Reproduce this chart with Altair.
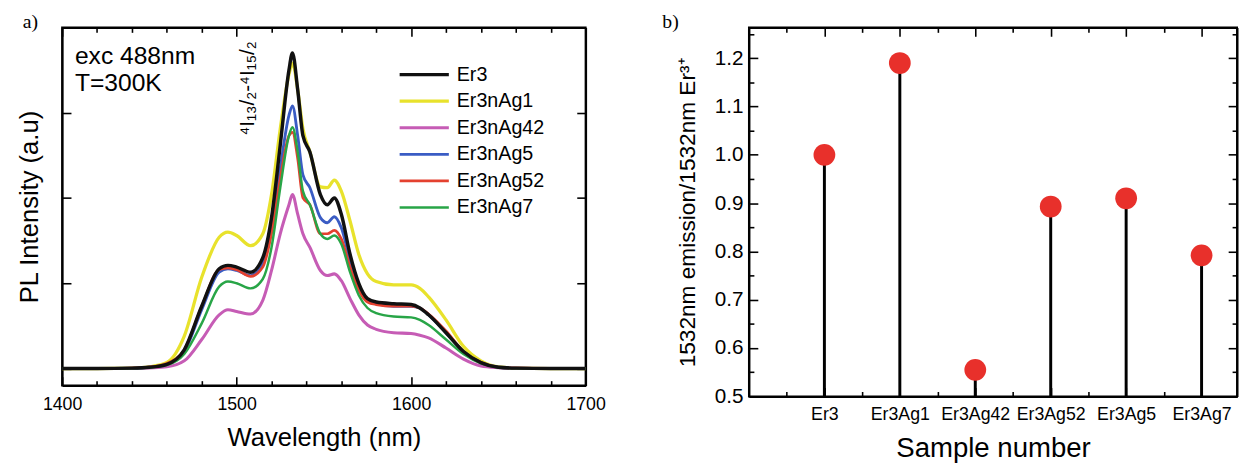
import json
import altair as alt
import pandas as pd

# ---------------- data: panel a) PL spectra ----------------
wavelength = [1400, 1420, 1440, 1450, 1460, 1470, 1480, 1490, 1495, 1500,
              1508, 1515, 1520, 1525, 1530, 1532, 1535, 1538, 1542, 1548,
              1552, 1556, 1560, 1565, 1570, 1575, 1580, 1590, 1600, 1605,
              1610, 1620, 1630, 1640, 1650, 1660, 1680, 1700]

er3 = [0, 0, 0.005, 0.015, 0.05, 0.22, 0.73, 1.17, 1.21, 1.19,
       1.13, 1.30, 1.77, 2.62, 3.50, 3.70, 3.27, 2.73, 2.54, 2.04,
       1.92, 2.00, 1.81, 1.34, 1.00, 0.82, 0.78, 0.76, 0.75, 0.71,
       0.63, 0.42, 0.20, 0.07, 0.015, 0.005, 0, 0]
er3nag1 = [0, 0, 0.005, 0.02, 0.07, 0.38, 1.07, 1.54, 1.60, 1.56,
           1.44, 1.58, 2.04, 2.81, 3.45, 3.58, 3.27, 2.81, 2.54, 2.13,
           2.12, 2.21, 2.08, 1.73, 1.34, 1.11, 1.02, 0.98, 0.98, 0.94,
           0.84, 0.57, 0.26, 0.09, 0.02, 0.005, 0, 0]
er3nag42 = [0, 0, 0, 0.008, 0.02, 0.09, 0.34, 0.63, 0.69, 0.67,
            0.64, 0.80, 1.15, 1.58, 1.92, 2.04, 1.81, 1.58, 1.42, 1.15,
            1.09, 1.11, 1.03, 0.82, 0.63, 0.51, 0.46, 0.42, 0.41, 0.39,
            0.36, 0.24, 0.11, 0.03, 0.01, 0.003, 0, 0]
er3nag5 = [0, 0, 0.005, 0.015, 0.05, 0.20, 0.69, 1.13, 1.17, 1.15,
           1.09, 1.23, 1.65, 2.35, 2.97, 3.08, 2.73, 2.27, 2.12, 1.77,
           1.71, 1.78, 1.65, 1.27, 0.96, 0.80, 0.76, 0.73, 0.73, 0.71,
           0.63, 0.42, 0.20, 0.07, 0.015, 0.005, 0, 0]
er3nag52 = [0, 0, 0.006, 0.018, 0.06, 0.22, 0.73, 1.16, 1.18, 1.16,
            1.08, 1.19, 1.58, 2.23, 2.73, 2.77, 2.46, 2.00, 1.92, 1.58,
            1.58, 1.62, 1.52, 1.19, 0.92, 0.78, 0.75, 0.73, 0.73, 0.71,
            0.64, 0.44, 0.20, 0.07, 0.015, 0.005, 0, 0]
er3nag7 = [0, 0, 0.004, 0.012, 0.04, 0.17, 0.53, 0.96, 1.02, 1.00,
           0.94, 1.05, 1.42, 2.12, 2.73, 2.83, 2.54, 2.08, 1.92, 1.58,
           1.52, 1.56, 1.46, 1.13, 0.86, 0.71, 0.65, 0.61, 0.60, 0.57,
           0.51, 0.34, 0.17, 0.06, 0.015, 0.004, 0, 0]

series_names = ["Er3", "Er3nAg1", "Er3nAg42", "Er3nAg5", "Er3nAg52", "Er3nAg7"]
series_colors = ["#111111", "#e8e22c", "#c65cb5", "#3a5cc4", "#e4412f", "#28a547"]
series_widths = [3.5, 2.5, 2.5, 2.5, 2.5, 2.5]
draw_order = ["Er3nAg1", "Er3nAg42", "Er3nAg5", "Er3nAg52", "Er3nAg7", "Er3"]

x_range_a = [1400, 1700]
y_range_a = [-0.2, 4.0]
x_major_a = [1400, 1500, 1600, 1700]
x_minor_a = [1420, 1440, 1460, 1480, 1520, 1540, 1560, 1580, 1620, 1640, 1660, 1680]
y_major_a = [0, 1, 2, 3]

# ---------------- data: panel b) ratio ----------------
samples = ["Er3", "Er3Ag1", "Er3Ag42", "Er3Ag52", "Er3Ag5", "Er3Ag7"]
sample_pos = [1, 2, 3, 4, 5, 6]
ratio = [1.0, 1.19, 0.555, 0.893, 0.91, 0.792]

x_range_b = [0, 6.47]
y_range_b = [0.5, 1.2637]
x_major_b = [1, 2, 3, 4, 5, 6]
x_minor_b = [0.5, 1.5, 2.5, 3.5, 4.5, 5.5]
y_major_b = [0.5, 0.6, 0.7, 0.8, 0.9, 1.0, 1.1, 1.2]
y_minor_b = [0.55, 0.65, 0.75, 0.85, 0.95, 1.05, 1.15, 1.25]

FONT = "Liberation Sans"
SERIF = "Liberation Serif"
one = pd.DataFrame({"k": [0]})


def frame_axis(orient):
    return alt.Axis(orient=orient, domain=True, domainColor="black", domainWidth=2,
                    ticks=False, labels=False, grid=False, title=None)


def tick_axis(orient, vals, size):
    # inward ticks: pull the axis line inside by the tick length
    return alt.Axis(orient=orient, values=vals, domain=False, ticks=True, tickSize=size,
                    tickWidth=1.6, tickColor="black", labels=False, grid=False,
                    title=None, offset=-size)


def guide_layers(xr, yr, xscale, yscale, xmaj, xmin, ymaj, ymin):
    """Invisible anchor marks that only carry the frame and the inward tick axes."""
    g = pd.DataFrame({"gx": [xr[0]], "gy": [yr[0]]})
    specs = [
        (frame_axis("top"), frame_axis("right")),
        (tick_axis("bottom", xmaj, 9), tick_axis("left", ymaj, 9)),
        (tick_axis("top", xmaj, 9), tick_axis("right", ymaj, 9)),
    ]
    if xmin or ymin:
        specs.append((tick_axis("bottom", xmin or [], 5), tick_axis("left", ymin or [], 5)))
        specs.append((tick_axis("top", xmin or [], 5), tick_axis("right", ymin or [], 5)))
    layers = []
    for ax_x, ax_y in specs:
        layers.append(alt.Chart(g).mark_point(opacity=0, size=1).encode(
            x=alt.X("gx:Q", scale=xscale, axis=ax_x),
            y=alt.Y("gy:Q", scale=yscale, axis=ax_y)))
    return layers


# ---------------- panel a ----------------
W1, H1 = 532, 364
values_by_name = {"Er3": er3, "Er3nAg1": er3nag1, "Er3nAg42": er3nag42,
                  "Er3nAg5": er3nag5, "Er3nAg52": er3nag52, "Er3nAg7": er3nag7}
rows = []
for name in draw_order:
    for w, v in zip(wavelength, values_by_name[name]):
        rows.append({"wl": w, "I": v, "s": name})
spec_df = pd.DataFrame(rows)

xs_a = alt.Scale(domain=x_range_a, nice=False)
ys_a = alt.Scale(domain=y_range_a, nice=False, zero=False)
ax_xa = alt.Axis(orient="bottom", values=x_major_a, format="d", ticks=False,
                 domain=True, domainColor="black", domainWidth=2, grid=False,
                 labelFlush=False, labelFont=FONT, labelFontSize=18, labelPadding=10,
                 labelColor="black", title="Wavelength (nm)", titleFont=FONT, titleFontSize=26,
                 titleFontWeight="normal", titlePadding=12, titleColor="black")
ax_ya = alt.Axis(orient="left", labels=False, ticks=False,
                 domain=True, domainColor="black", domainWidth=2, grid=False,
                 title="PL Intensity (a.u)", titleFont=FONT, titleFontSize=26,
                 titleFontWeight="normal", titlePadding=20, titleColor="black")

lines = alt.Chart(spec_df).mark_line(interpolate="monotone").encode(
    x=alt.X("wl:Q", scale=xs_a, axis=ax_xa),
    y=alt.Y("I:Q", scale=ys_a, axis=ax_ya),
    color=alt.Color("s:N", scale=alt.Scale(domain=series_names, range=series_colors),
                    legend=alt.Legend(orient="none", legendX=341, legendY=37, title=None,
                                      symbolType="stroke", symbolSize=2500,
                                      symbolStrokeWidth=3, labelFont=FONT,
                                      labelFontSize=20, labelColor="black",
                                      labelOffset=6, rowPadding=5, clipHeight=22)),
    strokeWidth=alt.StrokeWidth("s:N", scale=alt.Scale(domain=series_names, range=series_widths),
                                legend=None),
)

cond_text = alt.Chart(one).mark_text(align="left", baseline="top", font=FONT, fontSize=25,
                                     lineHeight=28, color="black").encode(
    x=alt.value(13), y=alt.value(17), text=alt.value(["exc 488nm", "T=300K"]))
trans_text = alt.Chart(one).mark_text(angle=270, align="center", baseline="middle", font=FONT,
                                      fontSize=21, color="black").encode(
    x=alt.value(189), y=alt.value(62), text=alt.value("⁴I₁₃/₂-⁴I₁₅/₂"))
tag_a = alt.Chart(one).mark_text(align="left", baseline="middle", font=SERIF, fontSize=20,
                                 color="black").encode(
    x=alt.value(-40), y=alt.value(-5), text=alt.value("a)"))

left = alt.layer(
    lines,
    *guide_layers(x_range_a, y_range_a, xs_a, ys_a, x_major_a, x_minor_a, y_major_a, []),
    cond_text, trans_text, tag_a,
).resolve_axis(x="independent", y="independent").properties(width=W1, height=H1)

# ---------------- panel b ----------------
W2, H2 = 496, 375
xs_b = alt.Scale(domain=x_range_b, nice=False, zero=False)
ys_b = alt.Scale(domain=y_range_b, nice=False, zero=False)
ratio_df = pd.DataFrame({"pos": sample_pos, "r": ratio, "name": samples})
label_expr = json.dumps(samples) + "[datum.value - 1]"
ax_xb = alt.Axis(orient="bottom", values=x_major_b, labelExpr=label_expr, ticks=False,
                 domain=True, domainColor="black", domainWidth=2, grid=False,
                 labelFlush=False, labelFont=FONT, labelFontSize=18, labelPadding=9,
                 labelColor="black", title="Sample number", titleFont=FONT, titleFontSize=28,
                 titleFontWeight="normal", titlePadding=12, titleColor="black")
ax_yb = alt.Axis(orient="left", values=y_major_b, format=".1f", ticks=False,
                 domain=True, domainColor="black", domainWidth=2, grid=False,
                 labelFlush=False, labelFont=FONT, labelFontSize=21, labelPadding=6,
                 labelColor="black", title="1532nm emission/1532nm Er³⁺", titleFont=FONT,
                 titleFontSize=23, titleFontWeight="normal", titlePadding=15, titleColor="black")

stems = alt.Chart(ratio_df).mark_rule(color="black", strokeWidth=3).encode(
    x=alt.X("pos:Q", scale=xs_b, axis=ax_xb),
    y=alt.Y("r:Q", scale=ys_b, axis=ax_yb),
    y2=alt.datum(0.5),
)
dots = alt.Chart(ratio_df).mark_circle(size=490, color="#e8302b", opacity=1).encode(
    x=alt.X("pos:Q", scale=xs_b, axis=None), y=alt.Y("r:Q", scale=ys_b, axis=None))
tag_b = alt.Chart(one).mark_text(align="left", baseline="middle", font=SERIF, fontSize=20,
                                 color="black").encode(
    x=alt.value(-88), y=alt.value(-5), text=alt.value("b)"))

right = alt.layer(
    stems, dots,
    *guide_layers(x_range_b, y_range_b, xs_b, ys_b, x_major_b, x_minor_b, y_major_b, y_minor_b),
    tag_b,
).resolve_axis(x="independent", y="independent").properties(width=W2, height=H2)

chart = alt.hconcat(left, right, spacing=166, bounds="flush").properties(
    padding={"left": 8, "top": 0, "right": 0, "bottom": 0}
).configure_view(stroke="black", strokeWidth=2)

chart.save("out.html", embed_options={"renderer": "svg", "actions": False})
